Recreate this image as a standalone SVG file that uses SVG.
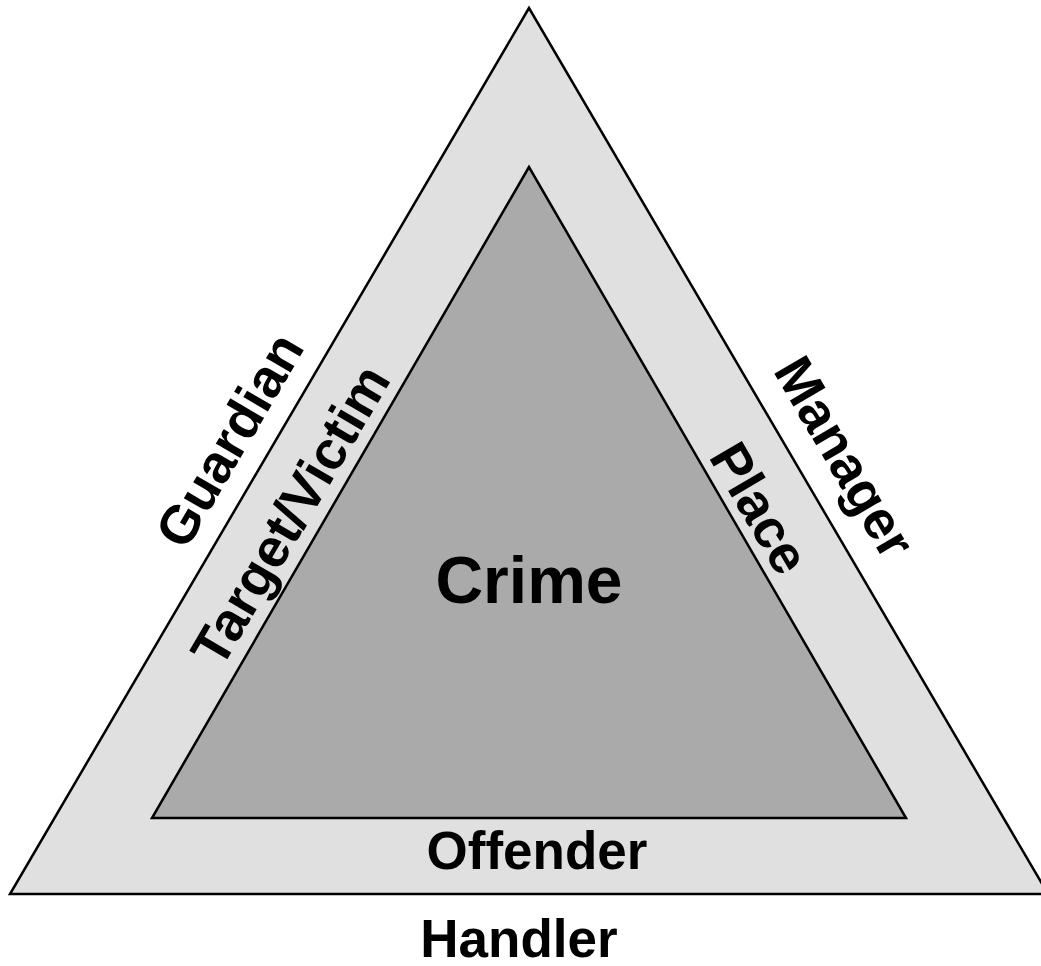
<svg xmlns="http://www.w3.org/2000/svg" width="1041" height="966" viewBox="0 0 1041 966">
<style>
.lbl{font-family:"Liberation Sans",Arial,sans-serif;font-weight:bold;fill:#000;text-anchor:middle;dominant-baseline:central}
.tri{stroke:#000;stroke-width:2.5;stroke-linejoin:miter}
</style>
<rect width="1041" height="966" fill="#fff"/>
<g id="outer">
<polygon class="tri" points="529,8 10,894 1048,894" fill="#e0e0e0"/>
</g>
<g id="inner">
<polygon class="tri" points="529,167 152,818 906,818" fill="#aaaaaa"/>
</g>
<g id="connectors"></g>
<g id="labels">
<text id="crime" class="lbl" x="529" y="580" font-size="66">Crime</text>
<text id="offender" class="lbl" x="537" y="850" font-size="53">Offender</text>
<text id="handler" class="lbl" x="519" y="938" font-size="53">Handler</text>
<text id="guardian" class="lbl" font-size="54" transform="translate(229,440) rotate(-59.6)">Guardian</text>
<text id="target" class="lbl" font-size="54" transform="translate(290,515) rotate(-59.6)">Target/Victim</text>
<text id="manager" class="lbl" font-size="54" transform="translate(845,457) rotate(59.6)">Manager</text>
<text id="place" class="lbl" font-size="54" transform="translate(760,508) rotate(59.6)">Place</text>
</g>
</svg>
